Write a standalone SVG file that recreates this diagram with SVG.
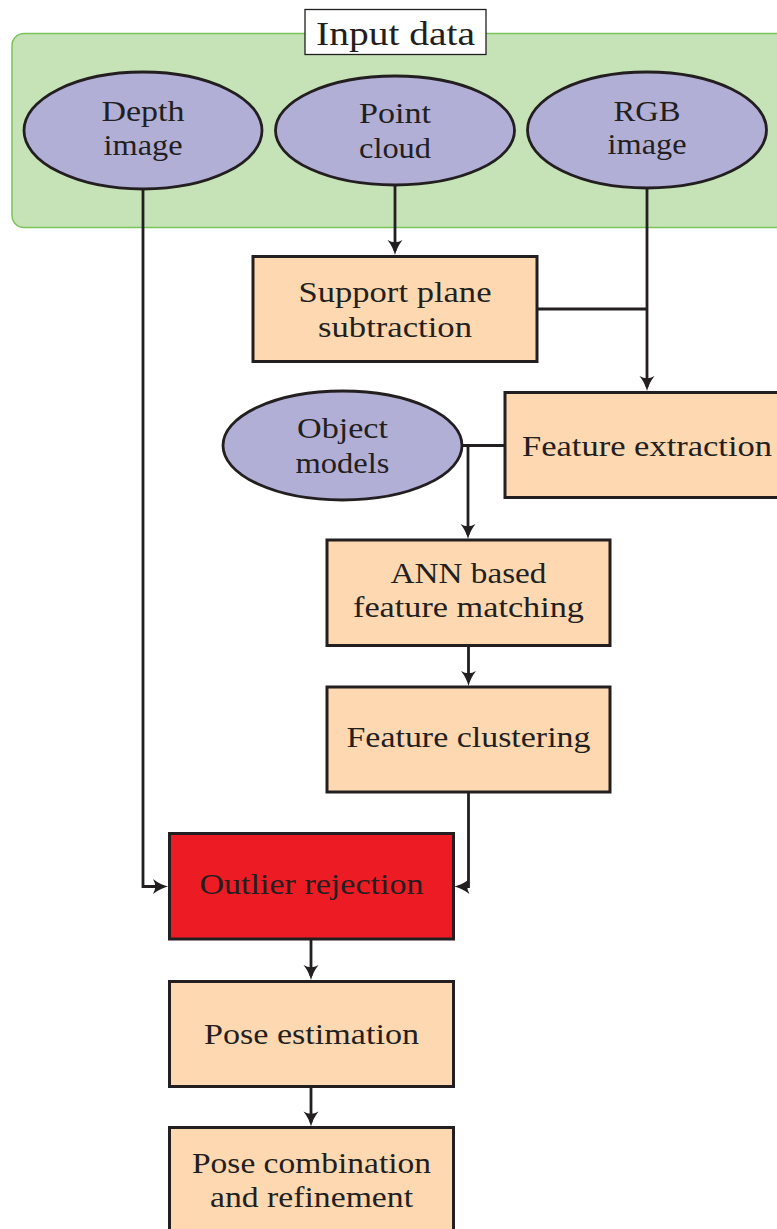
<svg xmlns="http://www.w3.org/2000/svg" width="777" height="1229" viewBox="0 0 777 1229">
<style>
text{font-family:"Liberation Serif","Times New Roman",serif;font-size:30px;fill:#231f20;text-anchor:middle}
.box{fill:#fed8b1;stroke:#231f20;stroke-width:3}
.ell{fill:#b2afd7;stroke:#231f20;stroke-width:2.8}
.con{fill:none;stroke:#231f20;stroke-width:2.8}
</style>
<defs>
<marker id="arr" viewBox="-14 -10 20 20" markerWidth="20" markerHeight="20" refX="0" refY="0" markerUnits="userSpaceOnUse" orient="auto">
<path d="M-11,-7.5 Q-4,-2 4,0 Q-4,2 -11,7.5 Q-6.5,0 -11,-7.5 Z" fill="#231f20"/>
</marker>
</defs>
<rect width="777" height="1229" fill="#ffffff"/>
<g id="input-data">
<rect x="12" y="33.5" width="776" height="194" rx="12" fill="#c5e3b7" stroke="#7cc35a" stroke-width="1.5"/>
<rect x="305" y="9.5" width="181" height="45" fill="#ffffff" stroke="#231f20" stroke-width="1.3"/>
<text x="395.5" y="44.5" style="font-size:34px" textLength="159" lengthAdjust="spacingAndGlyphs">Input data</text>
</g>
<g id="depth-image">
<ellipse class="ell" cx="143" cy="130.5" rx="119" ry="58.5"/>
<text x="143" y="121" textLength="83" lengthAdjust="spacingAndGlyphs">Depth</text>
<text x="143" y="155" textLength="79" lengthAdjust="spacingAndGlyphs">image</text>
</g>
<g id="point-cloud">
<ellipse class="ell" cx="395" cy="130.5" rx="119.5" ry="54.5"/>
<text x="395" y="123.3" textLength="72" lengthAdjust="spacingAndGlyphs">Point</text>
<text x="395" y="157.7" textLength="72" lengthAdjust="spacingAndGlyphs">cloud</text>
</g>
<g id="rgb-image">
<ellipse class="ell" cx="647" cy="130" rx="119.5" ry="58"/>
<text x="647" y="120.7" textLength="67" lengthAdjust="spacingAndGlyphs">RGB</text>
<text x="647" y="154" textLength="79" lengthAdjust="spacingAndGlyphs">image</text>
</g>
<g id="support-plane">
<rect class="box" x="253" y="256.5" width="284" height="105"/>
<text x="395" y="302" textLength="193" lengthAdjust="spacingAndGlyphs">Support plane</text>
<text x="395" y="336.7" textLength="154" lengthAdjust="spacingAndGlyphs">subtraction</text>
</g>
<g id="feature-extraction">
<rect class="box" x="505" y="392.5" width="284" height="105"/>
<text x="647" y="456" textLength="250" lengthAdjust="spacingAndGlyphs">Feature extraction</text>
</g>
<g id="object-models">
<ellipse class="ell" cx="342.5" cy="445.5" rx="119.5" ry="54.5"/>
<text x="342.5" y="438.3" textLength="91" lengthAdjust="spacingAndGlyphs">Object</text>
<text x="342.5" y="472.7" textLength="94" lengthAdjust="spacingAndGlyphs">models</text>
</g>
<g id="ann-matching">
<rect class="box" x="327" y="540" width="283" height="105.5"/>
<text x="468.5" y="582.7" textLength="156" lengthAdjust="spacingAndGlyphs">ANN based</text>
<text x="468.5" y="617.3" textLength="231" lengthAdjust="spacingAndGlyphs">feature matching</text>
</g>
<g id="feature-clustering">
<rect class="box" x="327" y="687" width="283" height="105"/>
<text x="468.5" y="747.3" textLength="244" lengthAdjust="spacingAndGlyphs">Feature clustering</text>
</g>
<g id="outlier-rejection">
<rect x="169.5" y="833.5" width="284" height="105.5" fill="#ed1c24" stroke="#231f20" stroke-width="3"/>
<text x="311.5" y="894.3" textLength="224" lengthAdjust="spacingAndGlyphs">Outlier rejection</text>
</g>
<g id="pose-estimation">
<rect class="box" x="169.5" y="981.5" width="284" height="105"/>
<text x="311.5" y="1044" textLength="215" lengthAdjust="spacingAndGlyphs">Pose estimation</text>
</g>
<g id="pose-combination">
<rect class="box" x="169.5" y="1127.5" width="284" height="110"/>
<text x="311.5" y="1172.7" textLength="239" lengthAdjust="spacingAndGlyphs">Pose combination</text>
<text x="311.5" y="1207.3" textLength="203" lengthAdjust="spacingAndGlyphs">and refinement</text>
</g>
<g id="connectors">
<path class="con" d="M143,189 V886.5 H164" marker-end="url(#arr)"/>
<path class="con" d="M395,185 V251" marker-end="url(#arr)"/>
<path class="con" d="M647,188 V387" marker-end="url(#arr)"/>
<path class="con" d="M537,309 H647"/>
<path class="con" d="M462,445.5 H505"/>
<path class="con" d="M468,445.5 V535" marker-end="url(#arr)"/>
<path class="con" d="M468.5,645.5 V682" marker-end="url(#arr)"/>
<path class="con" d="M468.5,792 V886.5 H458.5" marker-end="url(#arr)"/>
<path class="con" d="M311,939 V976" marker-end="url(#arr)"/>
<path class="con" d="M311,1086.5 V1122.5" marker-end="url(#arr)"/>
</g>
</svg>
